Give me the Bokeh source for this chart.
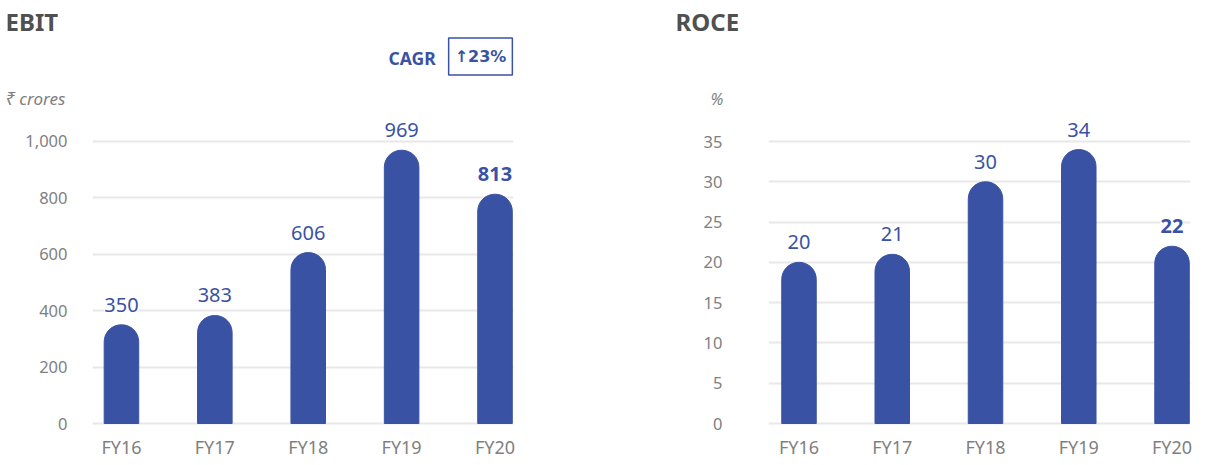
from bokeh.plotting import figure
from bokeh.models import Range1d, FixedTicker, NumeralTickFormatter, Label, ColumnDataSource
from bokeh.layouts import row, column
from bokeh.core.properties import value
from bokeh.embed import file_html
from bokeh.resources import INLINE

categories = ["FY16", "FY17", "FY18", "FY19", "FY20"]
ebit = [350, 383, 606, 969, 813]
roce = [20, 21, 30, 34, 22]
ebit_ticks = [0, 200, 400, 600, 800, 1000]
roce_ticks = [0, 5, 10, 15, 20, 25, 30, 35]
cagr_text = "CAGR"
cagr_value = "\u219123%"

BLUE = "#3A52A3"
GRID = "#E8E8E8"
TICK = "#7F7F7F"
TITLE = "#505050"
FONT = "Noto Sans"
HEADER_H = 112
TOTAL_W = 1199


def head_label(h, x, y, text, size, style, color, font=FONT, **kw):
    h.add_layout(Label(x=x, y=y, text=text, text_font=font, text_font_size=size,
                       text_font_style=style, text_color=color, text_baseline="middle", **kw))


header = figure(width=TOTAL_W, height=HEADER_H, x_range=Range1d(0, TOTAL_W),
                y_range=Range1d(HEADER_H, 0), output_backend="svg", toolbar_location=None,
                min_border=0)
header.axis.visible = False
header.grid.visible = False
header.outline_line_color = None
head_label(header, 5, 20.5, "EBIT", "24px", "bold", TITLE)
head_label(header, 5, 98, "\u20b9 crores", "17px", "italic", TICK)
head_label(header, 388, 57, cagr_text, "17.5px", "bold", BLUE)
head_label(header, 480, 56, cagr_value, "16px", "bold", BLUE, font="DejaVu Sans",
           text_align="center", border_line_color=BLUE, border_line_width=1.5, padding=(6, 9))
head_label(header, 675, 20.5, "ROCE", "24px", "bold", TITLE)
head_label(header, 710, 98, "%", "16px", "italic", TICK)


def make_chart(vals, ticks, fmt, fw, xr, yr, bl, br, standoff):
    xs = list(range(len(categories)))
    p = figure(frame_width=fw, frame_height=314, x_range=Range1d(*xr), y_range=Range1d(*yr),
               output_backend="svg", toolbar_location=None,
               min_border_left=bl, min_border_right=br, min_border_top=0, min_border_bottom=34)
    p.outline_line_color = None
    p.background_fill_color = "white"
    p.xgrid.visible = False
    p.ygrid.ticker = FixedTicker(ticks=ticks)
    p.ygrid.grid_line_color = GRID
    p.ygrid.grid_line_width = 2
    p.vbar(x=xs, top=vals, bottom=0, width=0.37, color=BLUE, border_radius=(17, 17, 0, 0))
    src = ColumnDataSource(dict(x=xs, y=vals, t=[str(v) for v in vals],
                                s=["normal"] * (len(vals) - 1) + ["bold"]))
    p.text(x="x", y="y", text="t", source=src, text_align="center", text_baseline="alphabetic",
           y_offset=-20, text_font=value(FONT), text_font_size="20px", text_color=BLUE,
           text_font_style="s", background_fill_color="white")
    ya = p.yaxis[0]
    ya.ticker = FixedTicker(ticks=ticks)
    if fmt:
        ya.formatter = NumeralTickFormatter(format=fmt)
    for ax in (ya, p.xaxis[0]):
        ax.axis_line_color = None
        ax.major_tick_line_color = None
        ax.minor_tick_line_color = None
        ax.major_tick_out = 0
        ax.major_tick_in = 0
        ax.minor_tick_out = 0
        ax.minor_tick_in = 0
        ax.axis_label_standoff = 0
        ax.major_label_text_font = FONT
        ax.major_label_text_color = TICK
    ya.major_label_standoff = standoff
    ya.major_label_text_font_size = "16.5px"
    xa = p.xaxis[0]
    xa.ticker = FixedTicker(ticks=xs)
    xa.major_label_overrides = {i: c for i, c in enumerate(categories)}
    xa.major_label_standoff = 8
    xa.major_label_text_font_size = "18px"
    return p


left = make_chart(ebit, ebit_ticks, "0,0", 421, (-0.31, 4.198), (-10.6, 1102.8), 92, 155, 25)
right = make_chart(roce, roce_ticks, None, 422, (-0.327, 4.198), (-0.372, 38.6), 100, 9, 46)

layout = column(header, row(left, right))
open("out.html", "w").write(file_html(layout, INLINE))
